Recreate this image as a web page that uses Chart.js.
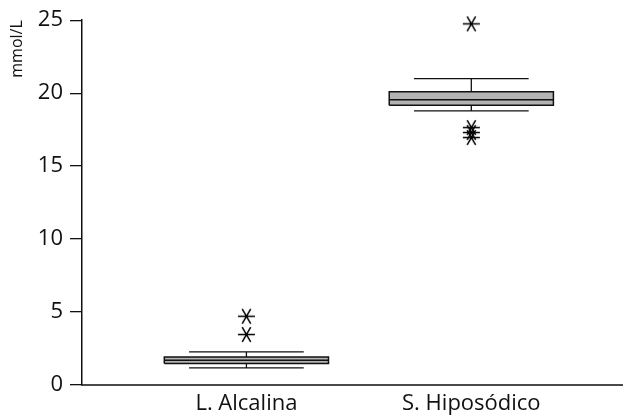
<!DOCTYPE html>
<html>
<head>
<meta charset="utf-8">
<script src="https://cdn.jsdelivr.net/npm/chart.js@4"></script>
<style>
  html, body { margin: 0; padding: 0; background: #fff; }
  #wrap { width: 631px; height: 419px; }
</style>
</head>
<body>
<div id="wrap"><canvas id="c"></canvas></div>
<script>
// values (mmol/L)
const categories = ['L. Alcalina', 'S. Hiposódico'];
const whiskerLow = [1.18, 18.78];
const q1 = [1.48, 19.17];
const median = [1.7, 19.54];
const q3 = [1.92, 20.1];
const whiskerHigh = [2.27, 21.0];
const outliers = [[4.71, 3.46], [24.75, 17.64, 17.3, 16.96]];
const yTicks = [0, 5, 10, 15, 20, 25];

const BOX_HALF = 0.365;
const CAP_HALF = 0.255;
const FONT = "'Open Sans', sans-serif";

// six-spoke asterisk used for outliers
function starCanvas(r) {
  const c = document.createElement('canvas');
  const s = Math.ceil(2 * r + 4);
  c.width = s; c.height = s;
  const g = c.getContext('2d');
  g.strokeStyle = '#000';
  g.lineWidth = 1.5;
  g.beginPath();
  for (let k = 0; k < 3; k++) {
    const a = k * Math.PI / 3;
    g.moveTo(s / 2 - r * Math.cos(a), s / 2 - r * Math.sin(a));
    g.lineTo(s / 2 + r * Math.cos(a), s / 2 + r * Math.sin(a));
  }
  g.stroke();
  return c;
}

const gap = x => ({ x: x, y: null });

const medianPts = [];
const whiskerPts = [];
const outlierPts = [];
categories.forEach((cat, i) => {
  const x = i + 1;
  medianPts.push({ x: x - BOX_HALF, y: median[i] }, { x: x + BOX_HALF, y: median[i] }, gap(x));
  whiskerPts.push(
    { x: x - CAP_HALF, y: whiskerHigh[i] }, { x: x + CAP_HALF, y: whiskerHigh[i] }, gap(x),
    { x: x, y: whiskerHigh[i] }, { x: x, y: q3[i] }, gap(x),
    { x: x, y: q1[i] }, { x: x, y: whiskerLow[i] }, gap(x),
    { x: x - CAP_HALF, y: whiskerLow[i] }, { x: x + CAP_HALF, y: whiskerLow[i] }, gap(x)
  );
  outliers[i].forEach(v => outlierPts.push({ x: x, y: v }));
});

const boxDatasets = categories.map((cat, i) => {
  const x = i + 1;
  return {
    label: cat,
    data: [
      { x: x - BOX_HALF, y: q1[i] }, { x: x + BOX_HALF, y: q1[i] },
      { x: x + BOX_HALF, y: q3[i] }, { x: x - BOX_HALF, y: q3[i] },
      { x: x - BOX_HALF, y: q1[i] }
    ],
    borderColor: '#111',
    borderWidth: 1.5,
    backgroundColor: '#b3b3b3',
    fill: 'shape',
    pointRadius: 0,
    tension: 0
  };
});

const chart = new Chart(document.getElementById('c'), {
  type: 'line',
  data: {
    datasets: [
      {
        label: 'outliers',
        data: outlierPts,
        showLine: false,
        clip: false,
        pointStyle: starCanvas(8.5),
        pointRadius: 8
      },
      { label: 'median', data: medianPts, borderColor: '#111', borderWidth: 1.5, pointRadius: 0, spanGaps: false },
      { label: 'whiskers', data: whiskerPts, borderColor: '#111', borderWidth: 1.3, pointRadius: 0, spanGaps: false },
      ...boxDatasets
    ]
  },
  options: {
    responsive: true,
    maintainAspectRatio: false,
    animation: false,
    layout: { padding: { top: 19, right: 4, left: 0, bottom: 0 } },
    plugins: { legend: { display: false }, tooltip: { enabled: false } },
    scales: {
      x: {
        type: 'linear',
        min: 0.269,
        max: 2.67,
        afterFit: s => { s.height = 34; },
        afterBuildTicks: s => { s.ticks = categories.map((c, i) => ({ value: i + 1 })); },
        grid: { display: true, drawOnChartArea: false, drawTicks: false },
        border: { display: true, color: '#4a4a4a', width: 2 },
        ticks: {
          padding: 6,
          color: '#111',
          font: { family: FONT, size: 22 },
          callback: v => categories[v - 1]
        }
      },
      y: {
        min: 0,
        max: 25,
        afterFit: s => { s.width = 82; },
        afterBuildTicks: s => { s.ticks = yTicks.map(v => ({ value: v })); },
        grid: { drawOnChartArea: false, drawTicks: true, tickLength: 12, color: '#111', lineWidth: 1.3 },
        border: { display: true, color: '#111', width: 1.5 },
        ticks: {
          padding: 7,
          color: '#111',
          font: { family: FONT, size: 22 }
        },
        title: {
          display: true,
          text: 'mmol/L',
          align: 'end',
          color: '#111',
          font: { family: FONT, size: 16 },
          padding: { top: 8, bottom: 0 }
        }
      }
    }
  }
});
</script>
</body>
</html>
